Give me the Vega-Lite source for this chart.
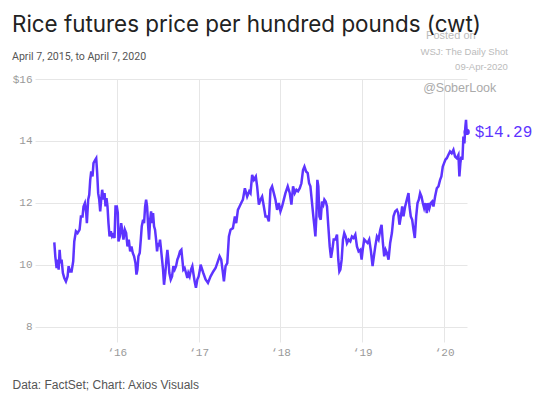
{
  "$schema": "https://vega.github.io/schema/vega-lite/v6.json",
  "width": 432,
  "height": 263,
  "autosize": "none",
  "padding": {"left": 35, "top": 79, "right": 74, "bottom": 56},
  "background": "white",
  "config": {"view": {"stroke": null}},
  "title": {
    "text": "Rice futures price per hundred pounds (cwt)",
    "subtitle": "April 7, 2015, to April 7, 2020",
    "anchor": "start",
    "frame": "group",
    "dx": -23,
    "offset": -32,
    "font": "Inter",
    "fontSize": 22.4,
    "fontWeight": "normal",
    "color": "#222222",
    "subtitleFont": "Roboto",
    "subtitleFontSize": 10.6,
    "subtitleColor": "#555555",
    "subtitlePadding": 15
  },
  "datasets": {
    "price": [
      {"t": 2015.236, "p": 10.72}, {"t": 2015.248, "p": 10.27}, {"t": 2015.264, "p": 9.89}, {"t": 2015.276, "p": 10.16},
      {"t": 2015.289, "p": 9.84}, {"t": 2015.301, "p": 10.48}, {"t": 2015.313, "p": 10.05}, {"t": 2015.325, "p": 10.16},
      {"t": 2015.341, "p": 9.73}, {"t": 2015.358, "p": 9.57}, {"t": 2015.378, "p": 9.46}, {"t": 2015.398, "p": 9.62},
      {"t": 2015.411, "p": 9.95}, {"t": 2015.427, "p": 9.78}, {"t": 2015.447, "p": 9.78}, {"t": 2015.467, "p": 10.11},
      {"t": 2015.480, "p": 10.75}, {"t": 2015.500, "p": 11.08}, {"t": 2015.520, "p": 11.02}, {"t": 2015.545, "p": 11.13},
      {"t": 2015.561, "p": 11.56}, {"t": 2015.581, "p": 11.56}, {"t": 2015.593, "p": 11.88}, {"t": 2015.610, "p": 11.99},
      {"t": 2015.626, "p": 11.67}, {"t": 2015.634, "p": 11.34}, {"t": 2015.650, "p": 12.10}, {"t": 2015.663, "p": 12.26},
      {"t": 2015.675, "p": 12.74}, {"t": 2015.687, "p": 13.01}, {"t": 2015.703, "p": 12.85}, {"t": 2015.715, "p": 13.28},
      {"t": 2015.736, "p": 13.39}, {"t": 2015.748, "p": 13.44}, {"t": 2015.760, "p": 12.96}, {"t": 2015.772, "p": 12.31},
      {"t": 2015.785, "p": 12.10}, {"t": 2015.797, "p": 11.72}, {"t": 2015.809, "p": 12.10}, {"t": 2015.821, "p": 12.42},
      {"t": 2015.837, "p": 12.10}, {"t": 2015.850, "p": 12.31}, {"t": 2015.862, "p": 11.88}, {"t": 2015.874, "p": 12.15},
      {"t": 2015.886, "p": 11.88}, {"t": 2015.898, "p": 11.34}, {"t": 2015.911, "p": 10.91}, {"t": 2015.927, "p": 11.08},
      {"t": 2015.943, "p": 10.91}, {"t": 2015.959, "p": 10.97}, {"t": 2015.972, "p": 10.86}, {"t": 2015.984, "p": 11.88},
      {"t": 2016.000, "p": 11.88}, {"t": 2016.012, "p": 11.67}, {"t": 2016.020, "p": 10.75}, {"t": 2016.037, "p": 10.91},
      {"t": 2016.053, "p": 11.34}, {"t": 2016.065, "p": 11.13}, {"t": 2016.081, "p": 10.81}, {"t": 2016.098, "p": 11.13},
      {"t": 2016.114, "p": 11.02}, {"t": 2016.130, "p": 10.59}, {"t": 2016.146, "p": 10.81}, {"t": 2016.163, "p": 10.43},
      {"t": 2016.179, "p": 10.59}, {"t": 2016.195, "p": 10.38}, {"t": 2016.211, "p": 10.27}, {"t": 2016.228, "p": 10.05},
      {"t": 2016.240, "p": 9.68}, {"t": 2016.252, "p": 9.84}, {"t": 2016.264, "p": 10.27}, {"t": 2016.280, "p": 10.38},
      {"t": 2016.293, "p": 10.81}, {"t": 2016.305, "p": 11.24}, {"t": 2016.321, "p": 11.45}, {"t": 2016.333, "p": 11.34},
      {"t": 2016.346, "p": 11.88}, {"t": 2016.358, "p": 12.10}, {"t": 2016.370, "p": 11.88}, {"t": 2016.382, "p": 11.29},
      {"t": 2016.394, "p": 10.81}, {"t": 2016.407, "p": 11.45}, {"t": 2016.419, "p": 11.72}, {"t": 2016.431, "p": 11.34},
      {"t": 2016.443, "p": 11.67}, {"t": 2016.455, "p": 11.24}, {"t": 2016.467, "p": 11.13}, {"t": 2016.480, "p": 10.81},
      {"t": 2016.492, "p": 10.43}, {"t": 2016.504, "p": 10.70}, {"t": 2016.516, "p": 10.59}, {"t": 2016.528, "p": 10.81},
      {"t": 2016.541, "p": 10.48}, {"t": 2016.553, "p": 10.16}, {"t": 2016.565, "p": 9.84}, {"t": 2016.577, "p": 9.35},
      {"t": 2016.593, "p": 9.73}, {"t": 2016.606, "p": 10.16}, {"t": 2016.618, "p": 10.48}, {"t": 2016.630, "p": 10.16},
      {"t": 2016.642, "p": 9.73}, {"t": 2016.659, "p": 9.52}, {"t": 2016.675, "p": 9.62}, {"t": 2016.691, "p": 9.95},
      {"t": 2016.707, "p": 9.84}, {"t": 2016.724, "p": 9.95}, {"t": 2016.740, "p": 10.16}, {"t": 2016.756, "p": 10.27},
      {"t": 2016.772, "p": 10.43}, {"t": 2016.789, "p": 10.48}, {"t": 2016.801, "p": 10.16}, {"t": 2016.813, "p": 9.84},
      {"t": 2016.829, "p": 9.89}, {"t": 2016.846, "p": 9.73}, {"t": 2016.862, "p": 9.57}, {"t": 2016.874, "p": 9.73},
      {"t": 2016.890, "p": 9.62}, {"t": 2016.907, "p": 9.84}, {"t": 2016.923, "p": 9.95}, {"t": 2016.935, "p": 9.73},
      {"t": 2016.951, "p": 9.46}, {"t": 2016.967, "p": 9.25}, {"t": 2016.984, "p": 9.52}, {"t": 2017.000, "p": 9.62},
      {"t": 2017.016, "p": 9.84}, {"t": 2017.024, "p": 10.00}, {"t": 2017.057, "p": 9.73}, {"t": 2017.085, "p": 9.52},
      {"t": 2017.114, "p": 9.41}, {"t": 2017.146, "p": 9.62}, {"t": 2017.179, "p": 9.78}, {"t": 2017.207, "p": 9.89},
      {"t": 2017.228, "p": 10.05}, {"t": 2017.256, "p": 10.27}, {"t": 2017.276, "p": 10.16}, {"t": 2017.297, "p": 9.73},
      {"t": 2017.309, "p": 9.46}, {"t": 2017.329, "p": 9.95}, {"t": 2017.350, "p": 10.05}, {"t": 2017.370, "p": 10.91},
      {"t": 2017.390, "p": 11.13}, {"t": 2017.419, "p": 11.18}, {"t": 2017.443, "p": 11.56}, {"t": 2017.459, "p": 11.34},
      {"t": 2017.480, "p": 11.77}, {"t": 2017.500, "p": 11.88}, {"t": 2017.520, "p": 11.99}, {"t": 2017.541, "p": 12.10},
      {"t": 2017.565, "p": 12.47}, {"t": 2017.593, "p": 12.20}, {"t": 2017.618, "p": 12.37}, {"t": 2017.634, "p": 12.31},
      {"t": 2017.654, "p": 12.90}, {"t": 2017.675, "p": 12.74}, {"t": 2017.699, "p": 12.85}, {"t": 2017.715, "p": 12.53},
      {"t": 2017.736, "p": 11.94}, {"t": 2017.756, "p": 12.10}, {"t": 2017.776, "p": 12.20}, {"t": 2017.797, "p": 11.88},
      {"t": 2017.817, "p": 11.56}, {"t": 2017.837, "p": 11.56}, {"t": 2017.858, "p": 11.40}, {"t": 2017.878, "p": 12.42},
      {"t": 2017.898, "p": 12.53}, {"t": 2017.919, "p": 12.31}, {"t": 2017.939, "p": 12.10}, {"t": 2017.959, "p": 11.77},
      {"t": 2017.980, "p": 11.99}, {"t": 2018.000, "p": 11.72}, {"t": 2018.020, "p": 11.88}, {"t": 2018.041, "p": 12.10},
      {"t": 2018.061, "p": 12.31}, {"t": 2018.089, "p": 12.53}, {"t": 2018.114, "p": 12.31}, {"t": 2018.134, "p": 11.94},
      {"t": 2018.154, "p": 12.53}, {"t": 2018.175, "p": 12.31}, {"t": 2018.195, "p": 12.42}, {"t": 2018.215, "p": 12.37},
      {"t": 2018.236, "p": 12.47}, {"t": 2018.256, "p": 12.63}, {"t": 2018.276, "p": 13.06}, {"t": 2018.293, "p": 13.17},
      {"t": 2018.313, "p": 13.01}, {"t": 2018.333, "p": 12.96}, {"t": 2018.350, "p": 12.63}, {"t": 2018.366, "p": 12.53},
      {"t": 2018.382, "p": 12.10}, {"t": 2018.402, "p": 11.56}, {"t": 2018.415, "p": 11.24}, {"t": 2018.427, "p": 10.91},
      {"t": 2018.439, "p": 11.56}, {"t": 2018.451, "p": 12.74}, {"t": 2018.463, "p": 12.53}, {"t": 2018.476, "p": 11.56},
      {"t": 2018.492, "p": 11.45}, {"t": 2018.508, "p": 12.04}, {"t": 2018.524, "p": 11.94}, {"t": 2018.537, "p": 12.10},
      {"t": 2018.553, "p": 12.04}, {"t": 2018.569, "p": 11.88}, {"t": 2018.585, "p": 11.24}, {"t": 2018.602, "p": 10.59},
      {"t": 2018.618, "p": 10.22}, {"t": 2018.634, "p": 10.48}, {"t": 2018.650, "p": 10.81}, {"t": 2018.671, "p": 10.81},
      {"t": 2018.691, "p": 10.97}, {"t": 2018.707, "p": 10.16}, {"t": 2018.720, "p": 9.78}, {"t": 2018.732, "p": 9.84},
      {"t": 2018.748, "p": 10.16}, {"t": 2018.764, "p": 10.81}, {"t": 2018.780, "p": 11.02}, {"t": 2018.797, "p": 10.91},
      {"t": 2018.813, "p": 10.70}, {"t": 2018.833, "p": 10.81}, {"t": 2018.854, "p": 10.75}, {"t": 2018.874, "p": 10.91},
      {"t": 2018.894, "p": 10.86}, {"t": 2018.915, "p": 10.97}, {"t": 2018.935, "p": 10.59}, {"t": 2018.955, "p": 10.43},
      {"t": 2018.976, "p": 10.48}, {"t": 2018.992, "p": 10.16}, {"t": 2019.008, "p": 10.54}, {"t": 2019.024, "p": 10.81},
      {"t": 2019.045, "p": 10.75}, {"t": 2019.065, "p": 10.70}, {"t": 2019.085, "p": 10.81}, {"t": 2019.106, "p": 10.43},
      {"t": 2019.126, "p": 9.95}, {"t": 2019.142, "p": 10.27}, {"t": 2019.159, "p": 10.59}, {"t": 2019.179, "p": 10.91},
      {"t": 2019.199, "p": 10.81}, {"t": 2019.220, "p": 11.13}, {"t": 2019.236, "p": 11.29}, {"t": 2019.252, "p": 10.70},
      {"t": 2019.268, "p": 10.27}, {"t": 2019.285, "p": 10.48}, {"t": 2019.301, "p": 10.38}, {"t": 2019.321, "p": 10.16},
      {"t": 2019.341, "p": 10.70}, {"t": 2019.362, "p": 11.02}, {"t": 2019.382, "p": 11.56}, {"t": 2019.402, "p": 11.72},
      {"t": 2019.423, "p": 11.77}, {"t": 2019.439, "p": 11.67}, {"t": 2019.455, "p": 11.29}, {"t": 2019.472, "p": 11.56},
      {"t": 2019.488, "p": 11.88}, {"t": 2019.504, "p": 11.56}, {"t": 2019.524, "p": 11.88}, {"t": 2019.545, "p": 12.10},
      {"t": 2019.565, "p": 12.31}, {"t": 2019.577, "p": 11.88}, {"t": 2019.593, "p": 11.56}, {"t": 2019.610, "p": 11.45},
      {"t": 2019.626, "p": 11.13}, {"t": 2019.642, "p": 10.86}, {"t": 2019.659, "p": 11.56}, {"t": 2019.675, "p": 11.99},
      {"t": 2019.691, "p": 12.10}, {"t": 2019.707, "p": 12.31}, {"t": 2019.724, "p": 12.20}, {"t": 2019.740, "p": 11.99},
      {"t": 2019.756, "p": 11.83}, {"t": 2019.772, "p": 11.99}, {"t": 2019.789, "p": 11.67}, {"t": 2019.805, "p": 11.99},
      {"t": 2019.821, "p": 11.83}, {"t": 2019.837, "p": 11.99}, {"t": 2019.854, "p": 12.04}, {"t": 2019.870, "p": 11.88},
      {"t": 2019.890, "p": 12.20}, {"t": 2019.911, "p": 12.47}, {"t": 2019.931, "p": 12.53}, {"t": 2019.951, "p": 12.74},
      {"t": 2019.967, "p": 12.85}, {"t": 2019.984, "p": 13.17}, {"t": 2020.000, "p": 13.28}, {"t": 2020.016, "p": 13.39},
      {"t": 2020.033, "p": 13.44}, {"t": 2020.053, "p": 13.55}, {"t": 2020.073, "p": 13.66}, {"t": 2020.093, "p": 13.60},
      {"t": 2020.114, "p": 13.71}, {"t": 2020.134, "p": 13.49}, {"t": 2020.154, "p": 13.44}, {"t": 2020.175, "p": 13.55},
      {"t": 2020.187, "p": 12.85}, {"t": 2020.199, "p": 13.28}, {"t": 2020.211, "p": 13.49}, {"t": 2020.224, "p": 13.39},
      {"t": 2020.236, "p": 14.14}, {"t": 2020.248, "p": 13.92}, {"t": 2020.260, "p": 14.46}, {"t": 2020.268, "p": 14.68},
      {"t": 2020.276, "p": 14.29}
    ],
    "last": [{"t": 2020.276, "p": 14.29, "label": "$14.29"}],
    "posted": [{"t": 2019.780, "p": 17.38, "text": "Posted on"}],
    "wsj": [{"t": 2020.780, "p": 16.87, "text": "WSJ: The Daily Shot"}],
    "date": [{"t": 2020.780, "p": 16.39, "text": "09-Apr-2020"}],
    "handle": [{"t": 2019.744, "p": 15.71, "text": "@SoberLook"}]
  },
  "encoding": {
    "x": {
      "field": "t",
      "type": "quantitative",
      "scale": {"domain": [2015, 2020.28], "nice": false, "zero": false},
      "axis": {
        "values": [2016, 2017, 2018, 2019, 2020],
        "format": "d",
        "labelExpr": "'‘' + substring(datum.label, 2)",
        "domain": false,
        "ticks": false,
        "grid": true,
        "gridColor": "#e6e6e6",
        "gridWidth": 1,
        "labelFont": "Liberation Mono",
        "labelFontSize": 11,
        "labelColor": "#999999",
        "labelPadding": 4,
        "title": "Data: FactSet; Chart: Axios Visuals",
        "titleFont": "Liberation Sans",
        "titleFontSize": 12,
        "titleFontWeight": "normal",
        "titleColor": "#555555",
        "titleAnchor": "start",
        "titleAlign": "left",
        "titleBaseline": "alphabetic",
        "titleX": -23,
        "titleY": 46
      }
    },
    "y": {
      "field": "p",
      "type": "quantitative",
      "scale": {"domain": [7.5, 16], "nice": false, "zero": false},
      "axis": {
        "values": [8, 10, 12, 14, 16],
        "labelExpr": "datum.value == 16 ? '$16' : datum.label",
        "domain": false,
        "ticks": false,
        "grid": true,
        "gridColor": "#e6e6e6",
        "gridWidth": 1,
        "labelFont": "Liberation Mono",
        "labelFontSize": 11,
        "labelColor": "#999999",
        "labelPadding": 3,
        "title": null
      }
    }
  },
  "layer": [
    {
      "data": {"name": "price"},
      "mark": {"type": "line", "color": "#5d34ff", "strokeWidth": 2.5}
    },
    {
      "data": {"name": "last"},
      "mark": {"type": "point", "filled": true, "size": 40, "color": "#5d34ff", "opacity": 1}
    },
    {
      "data": {"name": "last"},
      "mark": {"type": "text", "align": "left", "baseline": "middle", "dx": 8, "font": "Liberation Mono", "fontSize": 16, "color": "#5d34ff"},
      "encoding": {"text": {"field": "label"}}
    },
    {
      "data": {"name": "posted"},
      "mark": {"type": "text", "align": "left", "baseline": "middle", "font": "Liberation Sans", "fontSize": 11, "color": "#bbbbbb"},
      "encoding": {"text": {"field": "text"}}
    },
    {
      "data": {"name": "wsj"},
      "mark": {"type": "text", "align": "right", "baseline": "middle", "font": "Liberation Sans", "fontSize": 9.5, "color": "#bbbbbb"},
      "encoding": {"text": {"field": "text"}}
    },
    {
      "data": {"name": "date"},
      "mark": {"type": "text", "align": "right", "baseline": "middle", "font": "Liberation Sans", "fontSize": 9.5, "color": "#bbbbbb"},
      "encoding": {"text": {"field": "text"}}
    },
    {
      "data": {"name": "handle"},
      "mark": {"type": "text", "align": "left", "baseline": "middle", "font": "Liberation Sans", "fontSize": 12.5, "color": "#aaaaaa"},
      "encoding": {"text": {"field": "text"}}
    }
  ]
}
